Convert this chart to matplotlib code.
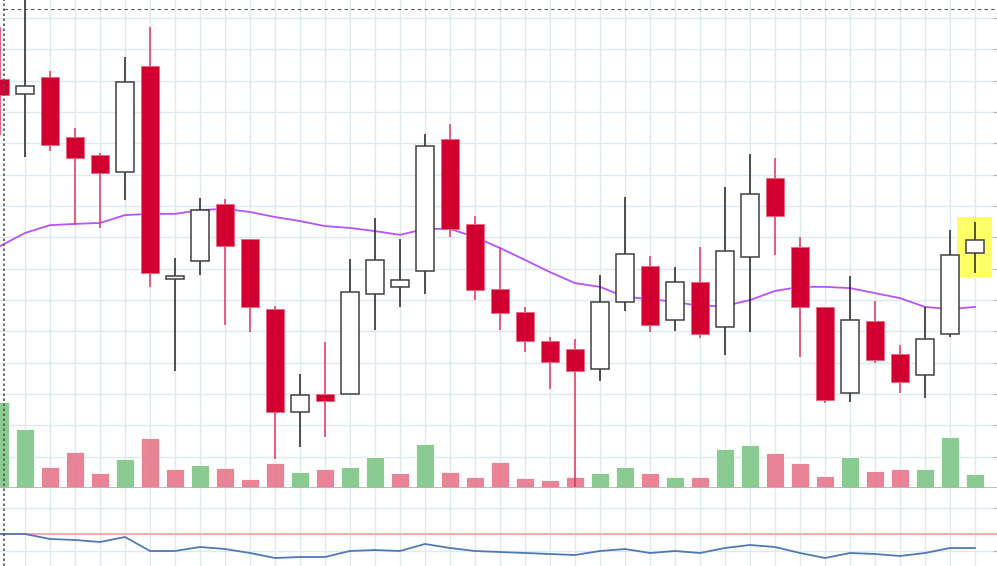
import numpy as np
import matplotlib
matplotlib.use("Agg")
import matplotlib.pyplot as plt
from matplotlib.lines import Line2D
from matplotlib.patches import Rectangle

# candle data (one candle per slot)
opens = [130.5, 125.8, 131.2, 112.0, 106.3, 100.9, 134.7, 66.7, 72.5, 90.7,
         79.5, 57.1, 24.3, 30.0, 30.0, 61.9, 64.2, 69.3, 111.4, 84.3,
         63.5, 56.2, 46.9, 44.4, 38.0, 59.4, 70.9, 53.6, 65.8, 51.4,
         73.7, 99.0, 76.9, 57.8, 30.3, 53.3, 42.8, 36.1, 49.2, 75.0]
highs = [147.1, 160.6, 133.1, 114.9, 106.9, 137.6, 147.1, 73.4, 92.6, 92.2,
         79.5, 58.1, 36.4, 46.6, 73.1, 86.2, 79.5, 113.0, 116.2, 86.8,
         76.9, 57.8, 48.2, 47.6, 68.0, 92.9, 74.1, 70.5, 76.9, 96.1,
         106.6, 105.3, 80.1, 57.8, 67.7, 59.7, 45.6, 57.8, 82.4, 84.9]
lows = [112.7, 105.7, 107.6, 83.9, 83.0, 91.9, 64.2, 37.3, 68.0, 52.0,
        49.8, 9.3, 13.1, 16.3, 30.0, 50.4, 57.8, 61.9, 80.1, 60.0,
        50.4, 43.4, 31.6, 0.3, 34.2, 56.5, 49.8, 50.1, 47.9, 42.5,
        49.8, 74.4, 41.8, 27.1, 27.5, 39.9, 30.3, 28.7, 48.2, 68.6]
closes = [125.4, 128.3, 109.5, 105.3, 100.5, 129.6, 68.6, 67.7, 88.7, 77.2,
          57.8, 24.3, 29.7, 27.8, 62.6, 72.8, 66.4, 109.2, 82.7, 63.2,
          55.9, 46.9, 40.2, 37.3, 59.4, 74.7, 52.0, 65.8, 49.2, 75.6,
          93.8, 86.8, 57.8, 28.1, 53.6, 40.9, 33.8, 47.6, 74.4, 79.2]
sma = [77.2, 81.4, 83.9, 84.3, 84.6, 87.1, 87.5, 87.5, 88.7, 89.1,
       88.1, 86.5, 85.2, 83.6, 83.0, 82.0, 80.8, 82.7, 82.7, 80.1,
       76.6, 72.8, 68.9, 65.4, 64.2, 61.0, 60.3, 59.4, 58.1, 58.1,
       60.0, 62.9, 64.2, 64.2, 63.8, 62.2, 60.6, 57.8, 57.1, 57.8]
volume = [8600, 5900, 2100, 3600, 1500, 2900, 5000, 1900, 2300, 2000,
          900, 2500, 1600, 1900, 2100, 3100, 1500, 4400, 1600, 1100,
          2600, 1000, 800, 1100, 1500, 2100, 1500, 1100, 1100, 3900,
          4300, 3500, 2500, 1200, 3100, 1700, 1900, 1900, 5100, 1400]
osc = [32, 32, 27, 26, 24, 29, 15, 15, 19, 17,
       13, 8, 9, 9, 15, 16, 15, 22, 18, 15,
       14, 13, 12, 11, 15, 17, 13, 15, 13, 18,
       21, 19, 13, 8, 13, 12, 10, 13, 18, 18]
osc_level = 32

o = np.array(opens); h = np.array(highs); l = np.array(lows); c = np.array(closes)
x = np.arange(len(o))
up = c >= o
vol_up = np.r_[True, c[1:] > c[:-1]]

W, H = 997, 566
fig = plt.figure(figsize=(W / 100, H / 100), dpi=100)
fig.patch.set_facecolor("white")

split = 78 / H
xlim = (0, W / 25)
ylim = (0, 488 / 3.133)
grid_c = "#dceaf0"

rect = [0, split, 1, 1 - split]
ax = fig.add_axes(rect)
axv = fig.add_axes(rect)
axc = fig.add_axes(rect)
axl = fig.add_axes([0, 0, 1, split])

# grid layer
ax.set_xlim(xlim); ax.set_ylim(ylim)
ax.set_xticks(np.arange(1, 40))
ax.set_yticks(np.arange(0, 160, 10))
ax.grid(True, color=grid_c, lw=1.0)
ax.tick_params(left=False, bottom=False, labelleft=False, labelbottom=False,
               right=True, direction="in", length=3, color="#b8b8b8")
for s in ax.spines.values():
    s.set_visible(False)

# volume layer
axv.set_xlim(xlim); axv.set_ylim(0, 48800)
axv.bar(x, volume, width=0.72, color=np.where(vol_up, "#83c98a", "#e87c91"),
        edgecolor=(1, 1, 1, 0.5), lw=0.6, alpha=0.95)
axv.axhline(0, color="#b5b5b5", lw=2.0)
axv.axis("off")
axv.patch.set_visible(False)

# candles layer
axc.set_xlim(xlim); axc.set_ylim(ylim)
axc.axis("off")
axc.patch.set_visible(False)
axc.plot(x, sma, color="#b553ff", lw=1.3, zorder=1)
axc.vlines(x, l, h, colors=np.where(up, "#222222", "#e2345b"), lw=1.1, zorder=2)
axc.bar(x[up], (c - o)[up], bottom=o[up], width=0.72, color="white",
        edgecolor="#404040", lw=1.1, zorder=3)
axc.bar(x[~up], (o - c)[~up], bottom=c[~up], width=0.72, color="#d10031",
        edgecolor="#eb6682", lw=0.6, zorder=3)

# highlight on last candle
axc.add_patch(Rectangle((x[-1] - 0.72, l[-1] - 1.3), 1.4, h[-1] - l[-1] + 2.9,
                        facecolor="#ffff66", edgecolor="none", zorder=0.5))

# lower panel
axl.set_xlim(xlim); axl.set_ylim(0, 78)
axl.set_xticks(np.arange(1, 40))
axl.set_yticks([15, 58])
axl.grid(True, color=grid_c, lw=1.0)
axl.tick_params(left=False, bottom=False, labelleft=False, labelbottom=False,
                right=True, direction="in", length=3, color="#b8b8b8")
for s in axl.spines.values():
    s.set_visible(False)
axl.axhline(osc_level, color="#f7a3a3", lw=1.3)
axl.plot(x, osc, color="#4f79b6", lw=1.3)

# crosshair-style dashed lines
fig.add_artist(Line2D([3.5 / W, 3.5 / W], [0, 1], color="#555555", lw=1.2,
                      linestyle=(0, (1.5, 1.5))))
fig.add_artist(Line2D([4 / W, 1], [1 - 9.3 / H, 1 - 9.3 / H], color="#555555",
                      lw=0.8, linestyle=(0, (3, 3))))

fig.savefig("out.png", dpi=100)
